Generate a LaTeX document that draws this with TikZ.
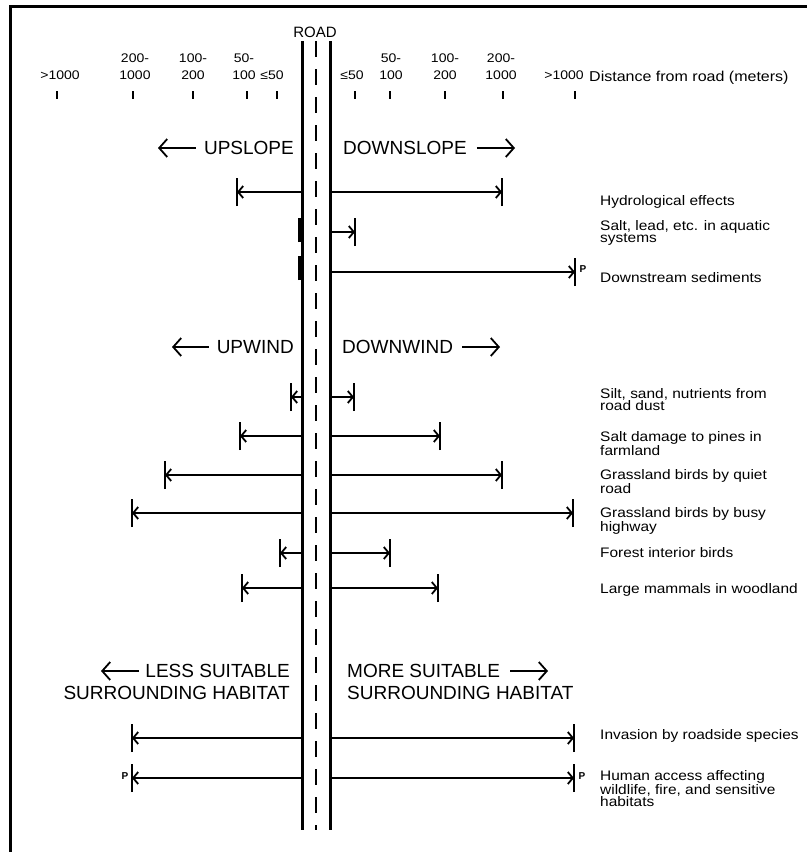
\documentclass[tikz,border=0pt]{standalone}
\usepackage{fontspec}
\setmainfont{Liberation Sans}
\newfontfamily\lblfont[FakeStretch=1.12]{Liberation Sans}
\usetikzlibrary{arrows.meta}
\newcommand\rngL[3]{% name, y, x
  \coordinate (#1L) at (#3,#2);
  \draw[rangeln] (RL |- #1L) -- (#1L);
  \draw[endbar] ([yshift=-14pt]#1L) -- ([yshift=14pt]#1L);}
\newcommand\rngR[3]{% name, y, x
  \coordinate (#1R) at (#3,#2);
  \draw[rangeln] (RR |- #1R) -- (#1R);
  \draw[endbar] ([yshift=-14pt]#1R) -- ([yshift=14pt]#1R);}
\begin{document}
\begin{tikzpicture}[x=1pt,y=-1pt,
  lbl/.style={anchor=north west, inner sep=0pt, align=left, font=\lblfont\fontsize{13.8}{12.5}\selectfont},
  colnum/.style={inner sep=0pt, align=center, anchor=north, font=\lblfont\fontsize{12.5}{17}\selectfont},
  hdr/.style={inner sep=0pt, font=\fontsize{19}{22}\selectfont},
  roadln/.style={line width=3pt},
  cdash/.style={line width=2pt, dash pattern=on 16pt off 12pt},
  rangeln/.style={line width=1.5pt, -{Straight Barb[length=5pt,width=12pt,line width=1.8pt]}},
  endbar/.style={line width=1.8pt},
  zerobar/.style={line width=2.6pt},
  hdrarrow/.style={line width=1.8pt, -{Straight Barb[length=8pt,width=18pt,line width=1.8pt]}},
  tickmk/.style={line width=2pt},
  pmark/.style={inner sep=0pt, font=\bfseries\fontsize{10}{10}\selectfont},
]
\fill[white] (0,0) rectangle (807,852);
\useasboundingbox (0,0) rectangle (807,852);
% frame
\draw[line width=3pt] (10.5,852) -- (10.5,6.5) -- (807,6.5);

% road
\coordinate (RL) at (302,41); \coordinate (RLb) at (302,830);
\coordinate (RR) at (330,41); \coordinate (RRb) at (330,830);
\coordinate (RC) at (316,41); \coordinate (RCb) at (316,830);
\draw[roadln] (RL) -- (RLb);
\draw[roadln] (RR) -- (RRb);
\draw[cdash] (RC) -- (RCb);
\node[inner sep=0pt, font=\fontsize{15}{16}\selectfont] (road) at (315,32) {ROAD};

% distance columns
\node[colnum] (cl1) at (60,71) {>1000};
\node[colnum] (cl2) at (135,54) {200-\\1000};
\node[colnum] (cl3) at (193,54) {100-\\200};
\node[colnum] (cl4) at (244,54) {50-\\100};
\node[colnum] (cl5) at (272,71) {≤50};
\node[colnum] (cr1) at (352,71) {≤50};
\node[colnum] (cr2) at (391,54) {50-\\100};
\node[colnum] (cr3) at (445,54) {100-\\200};
\node[colnum] (cr4) at (501,54) {200-\\1000};
\node[colnum] (cr5) at (564,71) {>1000};
\foreach \x in {57,133,193,247,277,355,390,445,503,575}
  \draw[tickmk] (\x,91) -- (\x,99);
\node[anchor=north west, inner sep=0pt, font=\lblfont\fontsize{14.3}{16}\selectfont] (dist) at (589,71) {Distance from road (meters)};

% slope section
\node[hdr, anchor=east] (ups) at (294,148) {UPSLOPE};
\node[hdr, anchor=west] (dns) at (343,148) {DOWNSLOPE};
\coordinate (upsA) at (158,148); \coordinate (dnsA) at (515,148);
\draw[hdrarrow] ([xshift=-8pt]ups.west) -- (upsA);
\draw[hdrarrow] ([xshift=10pt]dns.east) -- (dnsA);

\rngL{hyd}{192}{237} \rngR{hyd}{192}{502}
\coordinate (saltZ) at (299.5,230);
\draw[zerobar] ([yshift=-12pt]saltZ) -- ([yshift=12pt]saltZ);
\rngR{salt}{232}{355}
\coordinate (sedZ) at (299.5,268);
\draw[zerobar] ([yshift=-12pt]sedZ) -- ([yshift=12pt]sedZ);
\rngR{sed}{272}{575}
\node[pmark] (p1) at (583,269) {P};

\node[lbl] (t1) at (600,195) {Hydrological effects};
\node[lbl] (t2) at (600,220) {Salt, lead, etc. in aquatic\\systems};
\node[lbl] (t3) at (600,272) {Downstream sediments};

% wind section
\node[hdr, anchor=east] (upw) at (294,347) {UPWIND};
\node[hdr, anchor=west] (dnw) at (342,347) {DOWNWIND};
\coordinate (upwA) at (172,347); \coordinate (dnwA) at (500,347);
\draw[hdrarrow] ([xshift=-8pt]upw.west) -- (upwA);
\draw[hdrarrow] ([xshift=9pt]dnw.east) -- (dnwA);

\rngL{silt}{397}{291} \rngR{silt}{397}{354}
\rngL{pine}{436}{240} \rngR{pine}{436}{440}
\rngL{quiet}{475}{165} \rngR{quiet}{475}{502}
\rngL{busy}{513}{132} \rngR{busy}{513}{573}
\rngL{forest}{553}{280} \rngR{forest}{553}{390}
\rngL{mam}{588}{242} \rngR{mam}{588}{438}

\node[lbl] (t4) at (600,388) {Silt, sand, nutrients from\\road dust};
\node[lbl] (t5) at (600,431) {Salt damage to pines in\\farmland};
\node[lbl] (t6) at (600,469) {Grassland birds by quiet\\road};
\node[lbl] (t7) at (600,507) {Grassland birds by busy\\highway};
\node[lbl] (t8) at (600,547) {Forest interior birds};
\node[lbl] (t9) at (600,583) {Large mammals in woodland};

% habitat section
\node[hdr, align=right, anchor=north east] (less) at (290,664) {LESS SUITABLE\\SURROUNDING HABITAT};
\node[hdr, align=left, anchor=north west] (more) at (347,664) {MORE SUITABLE\\SURROUNDING HABITAT};
\coordinate (lessS) at (139,671); \coordinate (lessE) at (101,671);
\coordinate (moreS) at (510,671); \coordinate (moreE) at (548,671);
\draw[hdrarrow] (lessS) -- (lessE);
\draw[hdrarrow] (moreS) -- (moreE);

\rngL{inv}{738}{132} \rngR{inv}{738}{574}
\rngL{hum}{778}{132} \rngR{hum}{778}{574}
\node[pmark] (p2) at (125,776) {P};
\node[pmark] (p3) at (582,776) {P};

\node[lbl] (t10) at (600,729) {Invasion by roadside species};
\node[lbl] (t11) at (600,770) {Human access affecting\\wildlife, fire, and sensitive\\habitats};
\end{tikzpicture}
\end{document}
